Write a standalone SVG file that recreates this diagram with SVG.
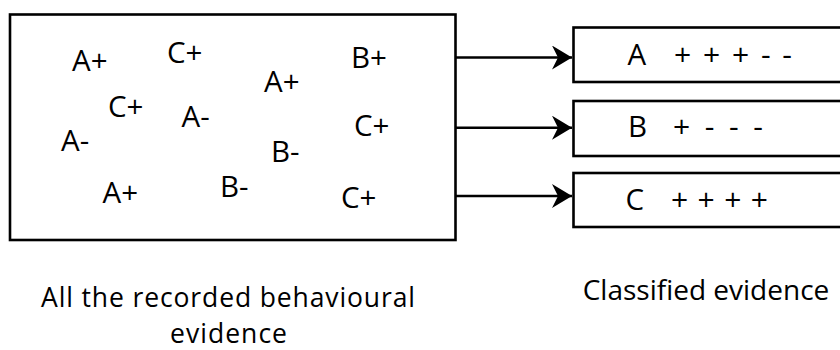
<svg xmlns="http://www.w3.org/2000/svg" width="840" height="350" viewBox="0 0 840 350">
  <defs>
    <style>
      .box { fill: #fff; stroke: #000; stroke-width: 2.6; }
      .link { stroke: #000; stroke-width: 2.4; fill: none; }
      .t { font-family: "Open Sans", "Noto Sans", sans-serif; font-size: 28px; fill: #000; }
      .item { font-size: 29.5px; }
      .sym { font-size: 30px; }
      .cap2 { font-size: 26.5px; }
    </style>
    <marker id="head" viewBox="0 0 20 24" refX="20" refY="12" markerWidth="20" markerHeight="24" markerUnits="userSpaceOnUse" orient="auto">
      <path d="M0,0 L20,12 L0,24 L6,12 Z" fill="#000"/>
    </marker>
  </defs>
  <rect width="840" height="350" fill="#fff"/>

  <!-- pool of recorded evidence -->
  <g id="recorded">
    <rect class="box" x="10" y="14.5" width="445.5" height="225.5"/>
    <text class="t item" x="72" y="70.5">A+</text>
    <text class="t item" x="167" y="62.5">C+</text>
    <text class="t item" x="264" y="91.5">A+</text>
    <text class="t item" x="351" y="68">B+</text>
    <text class="t item" x="108" y="116.5">C+</text>
    <text class="t item" x="181.5" y="126.5">A-</text>
    <text class="t item" x="354" y="136">C+</text>
    <text class="t item" x="61" y="150.5">A-</text>
    <text class="t item" x="271" y="161.5">B-</text>
    <text class="t item" x="102.5" y="202.5">A+</text>
    <text class="t item" x="220" y="196.5">B-</text>
    <text class="t item" x="341" y="207.5">C+</text>
  </g>

  <!-- classified groups -->
  <g id="classA">
    <rect class="box" x="573.5" y="27.5" width="280" height="54.5"/>
    <text class="t item" x="627.5" y="65">A</text>
    <text class="t sym" x="674" y="65" textLength="118">+ + + - -</text>
  </g>
  <g id="classB">
    <rect class="box" x="573.5" y="101" width="280" height="55"/>
    <text class="t item" x="628" y="137.3">B</text>
    <text class="t sym" x="673" y="137.3" textLength="90">+ - - -</text>
  </g>
  <g id="classC">
    <rect class="box" x="573.5" y="173" width="280" height="54"/>
    <text class="t item" x="625.5" y="210">C</text>
    <text class="t sym" x="671" y="210" textLength="97">+ + + +</text>
  </g>

  <!-- connectors -->
  <g id="connectors">
    <line class="link" x1="455.5" y1="57.5" x2="572" y2="57.5" marker-end="url(#head)"/>
    <line class="link" x1="455.5" y1="127.7" x2="572" y2="127.7" marker-end="url(#head)"/>
    <line class="link" x1="455.5" y1="196" x2="572" y2="196" marker-end="url(#head)"/>
  </g>

  <!-- captions -->
  <g id="captions">
    <text class="t cap2">
      <tspan x="41" y="306.5" textLength="374">All the recorded behavioural</tspan>
      <tspan x="170" y="342.6" textLength="117">evidence</tspan>
    </text>
    <text class="t" x="706" y="299.5" text-anchor="middle">Classified evidence</text>
  </g>
</svg>
